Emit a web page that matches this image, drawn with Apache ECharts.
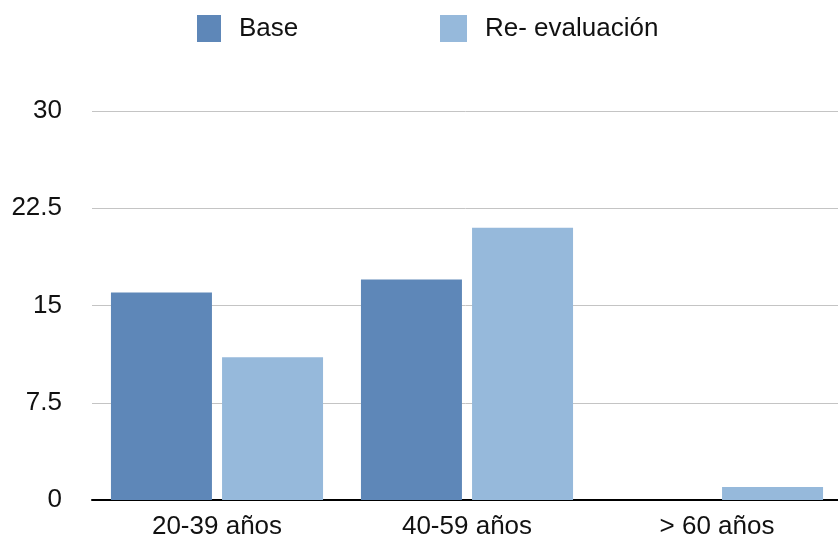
<!DOCTYPE html>
<html>
<head>
<meta charset="utf-8">
<script src="https://cdn.jsdelivr.net/npm/echarts@6/dist/echarts.min.js"></script>
<style>
  html, body { margin: 0; padding: 0; background: #fff; }
  #chart { width: 838px; height: 539px; }
</style>
</head>
<body>
<div id="chart"></div>
<script>
// Age groups and the two measurement rounds
const categories = ['20-39 años', '40-59 años', '> 60 años'];
const seriesNames = ['Base', 'Re- evaluación'];
const baseValues = [16, 17, 0];
const reevalValues = [11, 21, 1];
const yTicks = [0, 7.5, 15, 22.5, 30];

const colors = ['#5e87b8', '#96b9db'];
const font = "'Liberation Sans', Arial, Helvetica, sans-serif";

const chart = echarts.init(document.getElementById('chart'), null, { renderer: 'canvas' });

const legendText = { color: '#111', fontSize: 26, fontFamily: font, padding: [0, 0, 0, 13] };

chart.setOption({
  animation: false,
  backgroundColor: '#fff',
  legend: [
    {
      data: [seriesNames[0]], left: 192, top: 10,
      itemWidth: 24, itemHeight: 27, icon: 'rect',
      textStyle: legendText
    },
    {
      data: [seriesNames[1]], left: 435, top: 10,
      itemWidth: 27, itemHeight: 27, icon: 'rect',
      textStyle: legendText
    }
  ],
  grid: {
    left: 92, top: 111, bottom: 39, width: 750,
    containLabel: false, outerBoundsMode: 'none'
  },
  xAxis: {
    type: 'category',
    data: categories,
    axisLine: { show: true, lineStyle: { color: '#000', width: 2 } },
    axisTick: { show: false },
    axisLabel: { color: '#111', fontSize: 26, fontFamily: font, margin: 14 },
    splitLine: { show: false }
  },
  yAxis: {
    type: 'value',
    min: yTicks[0],
    max: yTicks[yTicks.length - 1],
    interval: yTicks[1] - yTicks[0],
    axisLine: { show: false },
    axisTick: { show: false },
    axisLabel: {
      color: '#111', fontSize: 26, fontFamily: font, margin: 30,
      formatter: v => String(v)
    },
    splitLine: { show: true, lineStyle: { color: '#c4c4c4', width: 1 } }
  },
  series: [
    {
      name: seriesNames[0], type: 'bar', data: baseValues,
      itemStyle: { color: colors[0] },
      barWidth: 101, barGap: '10%'
    },
    {
      name: seriesNames[1], type: 'bar', data: reevalValues,
      itemStyle: { color: colors[1] },
      barWidth: 101, barGap: '10%'
    }
  ]
});
</script>
</body>
</html>
